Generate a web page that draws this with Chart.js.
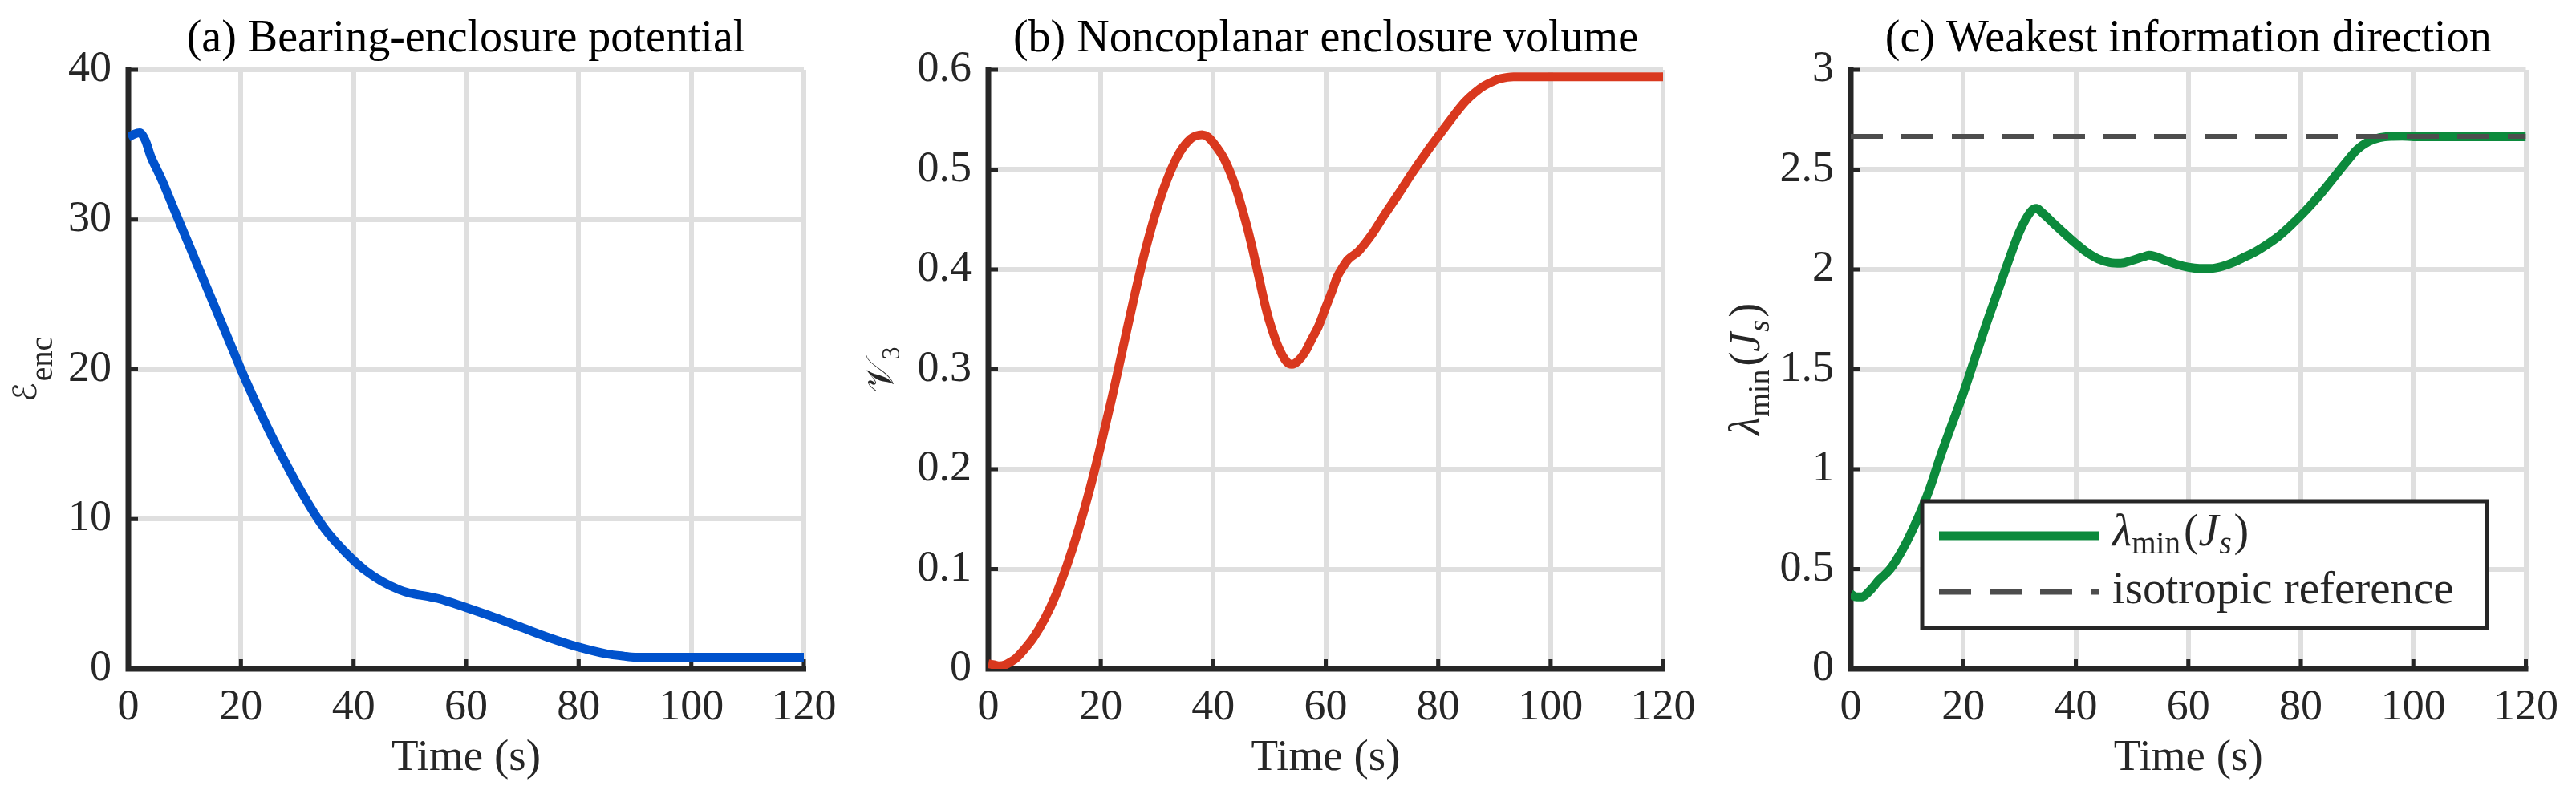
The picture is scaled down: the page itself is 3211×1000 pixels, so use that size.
<!DOCTYPE html>
<html><head><meta charset="utf-8">
<script src="https://cdn.jsdelivr.net/npm/chart.js@4.4.1/dist/chart.umd.min.js"></script>
<style>
html,body{margin:0;padding:0;background:#fff;}
#wrap{position:relative;width:3211px;height:1000px;overflow:hidden;background:#fff;}
canvas{position:absolute;left:0;top:0;}
</style></head><body>
<div id="wrap">
<canvas id="ca" width="3211" height="1000"></canvas>
<canvas id="cb" width="3211" height="1000"></canvas>
<canvas id="cc" width="3211" height="1000"></canvas>
</div>
<script>
// ---------- data ----------
const xTicks = [0, 20, 40, 60, 80, 100, 120];
const yTicksA = [0, 10, 20, 30, 40];
const yTicksB = [0, 0.1, 0.2, 0.3, 0.4, 0.5, 0.6];
const yTicksC = [0, 0.5, 1, 1.5, 2, 2.5, 3];

const titleA = '(a) Bearing-enclosure potential';
const titleB = '(b) Noncoplanar enclosure volume';
const titleC = '(c) Weakest information direction';
const xLabel = 'Time (s)';

const timeA = [0,1,2,3,4,5,6,8,10,12,15,18,20,22,25,28,30,33,35,38,40,42,45,48,50,53,55,58,60,65,70,75,80,85,88,90,95,100,110,120];
const encA  = [35.5,35.7,35.8,35.3,34.2,33.4,32.6,30.8,29.0,27.2,24.5,21.8,20.0,18.3,15.9,13.7,12.3,10.4,9.3,8.0,7.25,6.6,5.85,5.3,5.05,4.85,4.7,4.35,4.1,3.45,2.75,2.05,1.45,1.0,0.85,0.78,0.77,0.77,0.77,0.77];

const timeB = [0,1,2,3,4,5,6,8,10,12,14,16,18,20,22,24,26,28,30,32,34,36,37,38,39,40,42,44,46,47,48,49.2,50,51.6,53,54,55,56.3,57.5,58.7,60,61.1,62,63,64,65.8,68.2,70.6,73,75.3,78,80.1,82.5,84.8,86.5,88.2,90,91,93.4,100,110,120];
const volB  = [0.005,0.004,0.003,0.004,0.007,0.011,0.017,0.031,0.05,0.074,0.104,0.139,0.179,0.224,0.272,0.323,0.374,0.421,0.461,0.493,0.517,0.531,0.534,0.535,0.533,0.527,0.51,0.482,0.443,0.42,0.395,0.365,0.348,0.322,0.308,0.305,0.308,0.317,0.33,0.343,0.362,0.378,0.392,0.402,0.41,0.418,0.435,0.456,0.476,0.496,0.518,0.534,0.552,0.568,0.577,0.584,0.589,0.591,0.593,0.593,0.593,0.593];

const timeC = [0,1,2,3,4,5,6,7,8,10,12,14,16,18,20,22,24,26,28,30,32,33,34,36,38,40,42,44,46,48,50,52,53,54,56,58,60,62,64,66,68,70,72,74,76,78,80,82,84,86,88,90,92,94,96,98,100,110,120];
const lamC  = [0.375,0.36,0.36,0.38,0.41,0.445,0.47,0.5,0.54,0.64,0.76,0.9,1.07,1.225,1.38,1.55,1.72,1.88,2.04,2.19,2.29,2.306,2.285,2.232,2.18,2.13,2.085,2.052,2.035,2.031,2.045,2.063,2.071,2.066,2.045,2.025,2.011,2.005,2.005,2.015,2.035,2.062,2.09,2.125,2.165,2.215,2.27,2.33,2.395,2.465,2.535,2.6,2.64,2.66,2.667,2.668,2.665,2.665,2.665];

const refTime = [0, 120];
const refVals = [2.667, 2.667];

// ---------- style ----------
const AX = '#262626';
const GRID = '#dfdfdf';
const BLUE = '#0052CC';
const RED = '#D9381E';
const GREEN = '#0C8A3C';
const REFC = '#4D4D4D';
const SERIF = "'Liberation Serif', 'Times New Roman', serif";

function pts(xs, ys) { return xs.map((x, i) => ({ x: x, y: ys[i] })); }

function fontOf(p) { return (p.it ? 'italic ' : '') + p.size + 'px ' + (p.fam || SERIF); }
function richWidth(ctx, parts) {
  let w = 0;
  parts.forEach(p => { ctx.font = fontOf(p); w += ctx.measureText(p.t).width + (p.gap || 0); });
  return w;
}
function drawRich(ctx, x, y, parts) {
  parts.forEach(p => {
    ctx.font = fontOf(p);
    ctx.fillText(p.t, x, y + (p.dy || 0));
    x += ctx.measureText(p.t).width + (p.gap || 0);
  });
}

const axesPlugin = {
  id: 'matlabAxes',
  beforeDatasetsDraw(chart) {
    const ctx = chart.ctx, a = chart.chartArea, x = chart.scales.x, y = chart.scales.y;
    ctx.save();
    ctx.strokeStyle = AX;
    ctx.lineCap = 'butt';
    ctx.lineWidth = 5;
    x.ticks.forEach(t => {
      const px = x.getPixelForValue(t.value);
      ctx.beginPath(); ctx.moveTo(px, a.bottom); ctx.lineTo(px, a.bottom - 12); ctx.stroke();
    });
    y.ticks.forEach(t => {
      const py = y.getPixelForValue(t.value);
      ctx.beginPath(); ctx.moveTo(a.left, py); ctx.lineTo(a.left + 12, py); ctx.stroke();
    });
    ctx.lineWidth = 7;
    ctx.lineJoin = 'miter';
    ctx.beginPath();
    ctx.moveTo(a.left, a.top - 3);
    ctx.lineTo(a.left, a.bottom);
    ctx.lineTo(a.right + 3, a.bottom);
    ctx.stroke();
    ctx.restore();
  }
};

function yLabelPlugin(parts, offset) {
  return {
    id: 'ylab',
    afterDraw(chart) {
      const ctx = chart.ctx, a = chart.chartArea;
      const cy = (a.top + a.bottom) / 2;
      ctx.save();
      ctx.fillStyle = AX;
      ctx.textAlign = 'left';
      ctx.textBaseline = 'alphabetic';
      const w = richWidth(ctx, parts);
      ctx.translate(a.left - offset, cy + w / 2);
      ctx.rotate(-Math.PI / 2);
      drawRich(ctx, 0, 0, parts);
      ctx.restore();
    }
  };
}

const legendPlugin = {
  id: 'legendC',
  afterDraw(chart) {
    const ctx = chart.ctx, a = chart.chartArea;
    const bx = a.left + 89, by = a.top + 538, bw = 704, bh = 158;
    ctx.save();
    ctx.fillStyle = '#fff';
    ctx.fillRect(bx, by, bw, bh);
    ctx.strokeStyle = AX;
    ctx.lineWidth = 5;
    ctx.strokeRect(bx, by, bw, bh);
    ctx.lineCap = 'butt';
    ctx.strokeStyle = GREEN; ctx.lineWidth = 11;
    ctx.beginPath(); ctx.moveTo(bx + 21, by + 43); ctx.lineTo(bx + 220, by + 43); ctx.stroke();
    ctx.strokeStyle = REFC; ctx.lineWidth = 7; ctx.setLineDash([40, 23]);
    ctx.beginPath(); ctx.moveTo(bx + 21, by + 113); ctx.lineTo(bx + 220, by + 113); ctx.stroke();
    ctx.setLineDash([]);
    ctx.fillStyle = AX;
    ctx.textAlign = 'left'; ctx.textBaseline = 'alphabetic';
    drawRich(ctx, bx + 237, by + 55, [
      { t: 'λ', size: 56, it: true },
      { t: 'min', size: 39, dy: 10, gap: 4 },
      { t: '(', size: 56 },
      { t: 'J', size: 56, it: true, gap: 1 },
      { t: 's', size: 39, it: true, dy: 10, gap: 3 },
      { t: ')', size: 56 }
    ]);
    drawRich(ctx, bx + 237, by + 127, [{ t: 'isotropic reference', size: 57 }]);
    ctx.restore();
  }
};

function makeChart(id, o) {
  return new Chart(document.getElementById(id), {
    type: 'line',
    data: { datasets: o.datasets },
    options: {
      responsive: false, animation: false, devicePixelRatio: 1,
      layout: { padding: { left: o.L - 100, right: 3211 - o.R, top: 0, bottom: 0 } },
      plugins: {
        legend: { display: false },
        tooltip: { enabled: false },
        title: {
          display: true, text: o.title, fullSize: false, color: '#000',
          font: { family: SERIF, size: 56, lineHeight: 1, weight: 'normal' },
          padding: { top: 21, bottom: 10 }
        }
      },
      scales: {
        x: {
          type: 'linear', min: 0, max: 120,
          afterFit(s) { s.height = 166; },
          afterBuildTicks(s) { s.ticks = xTicks.map(v => ({ value: v })); },
          grid: { color: GRID, lineWidth: 6, drawTicks: false },
          border: { display: false },
          ticks: { color: AX, font: { family: SERIF, size: 54, lineHeight: 1 }, padding: 22, maxRotation: 0, autoSkip: false, callback: v => String(v) },
          title: { display: true, text: xLabel, color: AX, font: { family: SERIF, size: 55, lineHeight: 1 }, padding: { top: 0, bottom: 27 } }
        },
        y: {
          type: 'linear', min: o.ymin, max: o.ymax,
          afterFit(s) { s.width = 100; },
          afterBuildTicks(s) { s.ticks = o.yTicks.map(v => ({ value: v })); },
          grid: { color: GRID, lineWidth: 6, drawTicks: false },
          border: { display: false },
          ticks: { color: AX, font: { family: SERIF, size: 54, lineHeight: 1 }, padding: 21, autoSkip: false, callback: v => String(v) }
        }
      }
    },
    plugins: [axesPlugin].concat(o.extra)
  });
}

function lineDs(label, xs, ys, color, extra) {
  return Object.assign({
    label: label, data: pts(xs, ys), borderColor: color, backgroundColor: color,
    borderWidth: 11, pointRadius: 0, fill: false, cubicInterpolationMode: 'monotone',
    borderJoinStyle: 'round'
  }, extra || {});
}

makeChart('ca', {
  L: 160, R: 1002, title: titleA, ymin: 0, ymax: 40, yTicks: yTicksA,
  datasets: [lineDs('E_enc', timeA, encA, BLUE)],
  extra: [yLabelPlugin([{ t: 'ℰ', size: 40, fam: "'DejaVu Serif', 'DejaVu Sans'", gap: 2 }, { t: 'enc', size: 40, dy: 20 }], 115)]
});
makeChart('cb', {
  L: 1232, R: 2073, title: titleB, ymin: 0, ymax: 0.6, yTicks: yTicksB,
  datasets: [lineDs('V_3', timeB, volB, RED)],
  extra: [yLabelPlugin([{ t: '𝒱', size: 48, fam: "'DejaVu Sans', 'DejaVu Serif'" }, { t: '3', size: 32, dy: 8 }], 119)]
});
makeChart('cc', {
  L: 2307, R: 3149, title: titleC, ymin: 0, ymax: 3, yTicks: yTicksC,
  datasets: [
    lineDs('isotropic reference', refTime, refVals, REFC, { borderWidth: 6, borderDash: [40, 23], cubicInterpolationMode: 'default', tension: 0, order: 0 }),
    lineDs('lambda_min(J_s)', timeC, lamC, GREEN, { order: 1 })
  ],
  extra: [
    yLabelPlugin([
      { t: 'λ', size: 54, it: true },
      { t: 'min', size: 38, dy: 12, gap: 4 },
      { t: '(', size: 54 },
      { t: 'J', size: 54, it: true, gap: 1 },
      { t: 's', size: 38, it: true, dy: 12, gap: 3 },
      { t: ')', size: 54 }
    ], 114),
    legendPlugin
  ]
});
</script>
</body></html>
